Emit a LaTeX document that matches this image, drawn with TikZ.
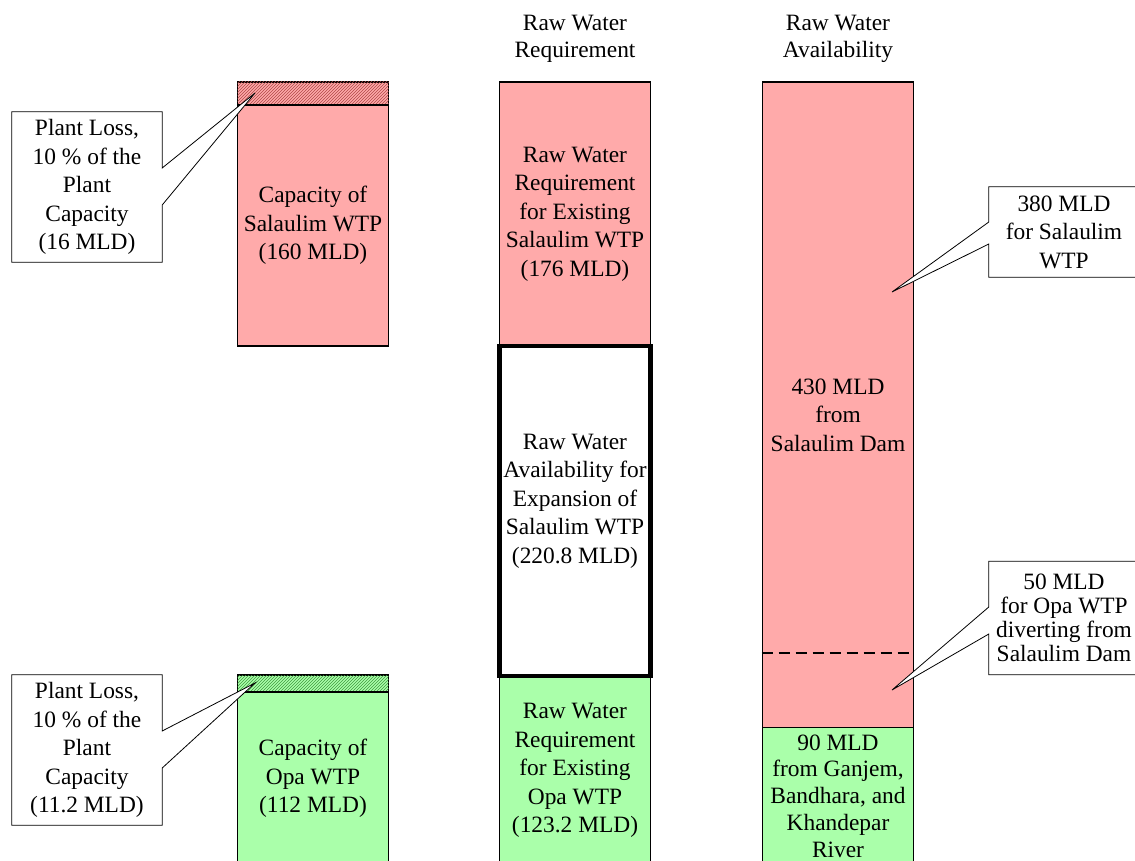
\documentclass[tikz,border=0pt]{standalone}
\usepackage{fontspec}
\setmainfont{Liberation Serif}
\usepackage{xcolor}
\usetikzlibrary{patterns,positioning,calc}
\definecolor{salpink}{HTML}{FFAAAA}
\definecolor{opagreen}{HTML}{AAFFAA}
\definecolor{salhatch}{HTML}{B04848}
\definecolor{opahatch}{HTML}{3E9A3E}
\newcommand{\bodyfont}{\fontsize{23.4}{28.5}\selectfont}

\begin{document}
\begin{tikzpicture}[x=1pt, y=-1pt,
    bar/.style={rectangle, draw, line width=1.6pt, minimum width=151pt, inner sep=0pt, align=center, font=\bodyfont},
    lossbar/.style={bar, postaction={pattern=north east lines, pattern color=#1}},
    calloutbox/.style={rectangle, minimum width=150pt, inner sep=0pt, align=center, font=\bodyfont},
    pointer/.style={line width=0.8pt, line join=miter},
    head/.style={align=center, font=\fontsize{23.4}{27}\selectfont}]
    \clip (0,0) rectangle (1135,861);

    % column headers
    \node[head] (reqhead) at (575,39) {Raw Water\\Requirement};
    \node[head] (availhead) at (838,39) {Raw Water\\Availability};

    % plant capacities
    \node[lossbar=salhatch, fill=salpink, minimum height=23pt] (salloss) at (313,93.5) {};
    \node[bar, fill=salpink, minimum height=241pt] (salcap) at (313,225.5) {Capacity of\\Salaulim WTP\\(160 MLD)};
    \node[lossbar=opahatch, fill=opagreen, minimum height=17pt] (opaloss) at (313,683.5) {};
    \node[bar, fill=opagreen, minimum height=173pt] (opacap) at (313,778.5) {Capacity of\\Opa WTP\\(112 MLD)};

    % raw water requirement
    \node[bar, fill=salpink, minimum height=264pt] (salreq) at (575,214) {Raw Water\\Requirement\\for Existing\\Salaulim WTP\\(176 MLD)};
    \node[bar, fill=opagreen, minimum height=189pt] (opareq) at (575,770.5) {Raw Water\\Requirement\\for Existing\\Opa WTP\\(123.2 MLD)};
    \node[bar, fill=white, line width=4.2pt, minimum height=330pt] (expavail) at (575,511) {};
    \node[align=center, font=\bodyfont] (exptext) at (575,501) {Raw Water\\Availability for\\Expansion of\\Salaulim WTP\\(220.8 MLD)};

    % raw water availability
    \node[bar, fill=salpink, minimum height=646pt] (damavail) at (838,405) {};
    \node[align=center, font=\bodyfont] (damtext) at (838,415) {430 MLD\\from\\Salaulim Dam};
    \node[bar, fill=opagreen, minimum height=137pt, font=\fontsize{23.4}{26.8}\selectfont] (rivavail) at (838,796) {90 MLD\\from Ganjem,\\Bandhara, and\\Khandepar\\River};
    \draw[line width=2.2pt, dash pattern=on 11pt off 6pt] (damavail.west |- 0,653) -- (damavail.east |- 0,653);

    % callouts
    \coordinate (saltip) at (255,93);
    \coordinate (opatip) at (255,683);
    \coordinate (saldamtip) at (892,292);
    \coordinate (opadamtip) at (892,690);

    \node[calloutbox, minimum height=150pt] (salloss note) at (87,187) {Plant Loss,\\10 \% of the\\Plant\\Capacity\\(16 MLD)};
    \fill[white] (salloss note.east |- 0,168) -- (saltip) -- (salloss note.east |- 0,205) -- cycle;
    \draw[pointer] (salloss note.north west) -- (salloss note.north east) -- (salloss note.east |- 0,168) -- (saltip)
        -- (salloss note.east |- 0,205) -- (salloss note.south east) -- (salloss note.south west) -- cycle;

    \node[calloutbox, minimum height=150pt] (opaloss note) at (87,750) {Plant Loss,\\10 \% of the\\Plant\\Capacity\\(11.2 MLD)};
    \fill[white] (opaloss note.east |- 0,731) -- (opatip) -- (opaloss note.east |- 0,768) -- cycle;
    \draw[pointer] (opaloss note.north west) -- (opaloss note.north east) -- (opaloss note.east |- 0,731) -- (opatip)
        -- (opaloss note.east |- 0,768) -- (opaloss note.south east) -- (opaloss note.south west) -- cycle;

    \node[calloutbox, minimum height=90pt] (salshare) at (1064,232) {380 MLD\\for Salaulim\\WTP};
    \fill[white] (salshare.west |- 0,222) -- (saldamtip) -- (salshare.west |- 0,244) -- cycle;
    \draw[pointer] (salshare.north east) -- (salshare.north west) -- (salshare.west |- 0,222) -- (saldamtip)
        -- (salshare.west |- 0,244) -- (salshare.south west) -- (salshare.south east) -- cycle;

    \node[calloutbox, minimum height=113pt, font=\fontsize{23.4}{23.8}\selectfont] (opashare) at (1064,618) {50 MLD\\for Opa WTP\\diverting from\\Salaulim Dam};
    \fill[white] (opashare.west |- 0,607) -- (opadamtip) -- (opashare.west |- 0,634) -- cycle;
    \draw[pointer] (opashare.north east) -- (opashare.north west) -- (opashare.west |- 0,607) -- (opadamtip)
        -- (opashare.west |- 0,634) -- (opashare.south west) -- (opashare.south east) -- cycle;
\end{tikzpicture}
\end{document}
